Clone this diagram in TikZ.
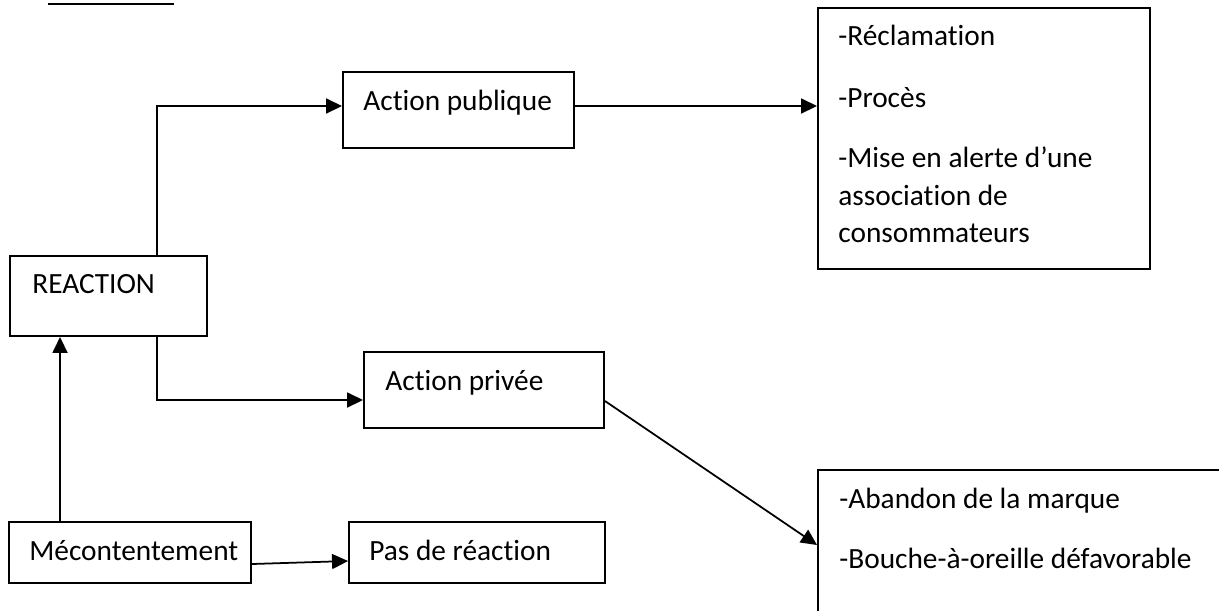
\documentclass[tikz,border=0pt]{standalone}
\usepackage{fontspec}
\setmainfont{Carlito}[Ligatures={TeX,NoCommon}]
\usetikzlibrary{arrows.meta,positioning,fit}

\begin{document}
\begin{tikzpicture}[
  x=0.02cm, y=-0.02cm,
  every node/.style={font=\fontsize{16.7}{21}\selectfont},
  boxnode/.style={draw,line width=1.1pt,inner sep=0pt},
  lbl/.style={anchor=base west,inner sep=0pt},
  arr/.style={-{Triangle[length=0.32cm,width=0.3cm]},line width=1pt},
]
  \useasboundingbox (0,0) rectangle (1219,610);

  % Heading rule (heading text is cut off)
  \draw[line width=1.4pt] (48,4) -- (174,4);

  % Boxes
  \node[boxnode,fit={(10,256) (207,336)}] (reac) {};
  \node[boxnode,fit={(343,72) (574,148)}] (pub) {};
  \node[boxnode,fit={(818,8) (1150,269)}] (rt) {};
  \node[boxnode,fit={(364,352) (604,428)}] (priv) {};
  \node[boxnode,fit={(818,470) (1240,620)}] (brb) {};
  \node[boxnode,fit={(9,522) (251,583)}] (mec) {};
  \node[boxnode,fit={(349,522) (605,583)}] (pas) {};

  % Texts
  \node[lbl] (reac-t) at (32,293) {REACTION};
  \node[lbl] (pub-t) at (363,110) {Action publique};
  \node[lbl] (priv-t) at (385,390) {Action privée};
  \node[lbl] (mec-t) at (29,560) {Mécontentement};
  \node[lbl] (pas-t) at (369,560) {Pas de réaction};

  \node[lbl] (rt-a) at (838,45) {-Réclamation};
  \node[lbl] (rt-b) at (838,107) {-Procès};
  \node[lbl] (rt-c) at (838,167) {-Mise en alerte d’une};
  \node[lbl] (rt-d) at (838,205) {association de};
  \node[lbl] (rt-e) at (838,242) {consommateurs};

  \node[lbl] (brb-a) at (839,508) {-Abandon de la marque};
  \node[lbl] (brb-b) at (839,568) {-Bouche-à-oreille défavorable};

  % Connectors
  \draw[arr] ([xshift=1.04cm]mec.north west) -- ([xshift=1.04cm]mec.north west |- reac.south);
  \draw[arr] ([xshift=2.96cm]reac.north west) |- ([yshift=0.08cm]pub.west);
  \draw[arr] ([yshift=0.08cm]pub.east) -- ([yshift=0.08cm]pub.east -| rt.west);
  \draw[arr] ([xshift=2.96cm]reac.south west) |- ([yshift=-0.2cm]priv.west);
  \draw[arr] ([yshift=-0.22cm]priv.east) -- (brb.west);
  \draw[arr] ([yshift=-0.23cm]mec.east) -- ([yshift=-0.17cm]pas.west);
\end{tikzpicture}
\end{document}
